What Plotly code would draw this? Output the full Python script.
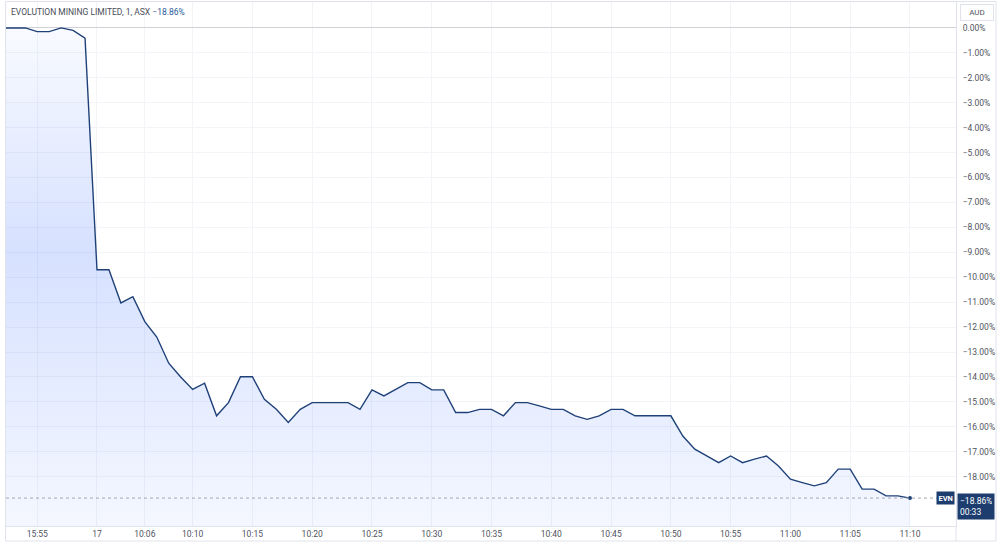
import plotly.graph_objects as go

# ---- data ----
prev_times = ["15:52", "15:53", "15:54", "15:55", "15:56", "15:57", "15:58", "15:59"]
prev_values = [0.0, 0.0, 0.0, -0.15, -0.15, 0.0, -0.1, -0.41]

day_times = [f"{10 + (m // 60)}:{m % 60:02d}" for m in range(2, 71)]  # 10:02 .. 11:10
day_values = [
    -9.70, -9.70, -11.03, -10.78, -11.78, -12.40, -13.45, -14.00, -14.50, -14.25,
    -15.56, -15.03, -13.99, -13.99, -14.90, -15.30, -15.83, -15.30, -15.03, -15.03,
    -15.03, -15.03, -15.30, -14.52, -14.76, -14.50, -14.23, -14.23, -14.52, -14.52,
    -15.43, -15.43, -15.30, -15.30, -15.56, -15.03, -15.03, -15.16, -15.30, -15.30,
    -15.56, -15.70, -15.56, -15.30, -15.30, -15.56, -15.56, -15.56, -15.56, -16.37,
    -16.90, -17.17, -17.44, -17.17, -17.44, -17.30, -17.17, -17.57, -18.10, -18.24,
    -18.37, -18.24, -17.70, -17.70, -18.50, -18.50, -18.77, -18.77, -18.86,
]

times = prev_times + day_times
values = prev_values + day_values

tick_times = ["15:55", "10:02", "10:06", "10:10", "10:15", "10:20", "10:25", "10:30",
              "10:35", "10:40", "10:45", "10:50", "10:55", "11:00", "11:05", "11:10"]
tick_text = ["15:55", "17", "10:06", "10:10", "10:15", "10:20", "10:25", "10:30",
             "10:35", "10:40", "10:45", "10:50", "10:55", "11:00", "11:05", "11:10"]

y_ticks = [0, -1, -2, -3, -4, -5, -6, -7, -8, -9, -10, -11, -12, -13, -14, -15, -16, -17, -18]
y_tick_text = [("0.00%" if v == 0 else "\u2212%.2f%%" % abs(v)) for v in y_ticks]

symbol = "EVN"
title_name = "EVOLUTION MINING LIMITED, 1, ASX"
last_change = values[-1]
countdown = "00:33"

# ---- styles ----
LINE = "#1f4178"
NAVY = "#1c3d6e"
GRID = "#f2f4f8"
TXT = "#50535e"
FONT = "Roboto"

y_range = [-19.98, 1.04]
x_range = [0.389, 79.85]

fig = go.Figure()

# baseline helper for area fill down to the bottom of the pane
fig.add_trace(go.Scatter(
    x=times, y=[y_range[0]] * len(times), mode="lines",
    line=dict(width=0, color="rgba(0,0,0,0)"), hoverinfo="skip", showlegend=False,
))

fig.add_trace(go.Scatter(
    x=times, y=values, mode="lines",
    line=dict(color=LINE, width=1.4),
    fill="tonexty",
    fillgradient=dict(
        type="vertical",
        start=y_range[0], stop=0,
        colorscale=[[0, "rgba(41,98,255,0.05)"], [0.35, "rgba(41,98,255,0.14)"],
                    [0.55, "rgba(41,98,255,0.19)"], [1, "rgba(41,98,255,0.03)"]],
    ),
    showlegend=False,
))

# last point marker
fig.add_trace(go.Scatter(
    x=[times[-1]], y=[values[-1]], mode="markers",
    marker=dict(color=LINE, size=4), showlegend=False,
))

fig.update_layout(
    width=1000, height=545,
    margin=dict(l=6, r=44, t=2, b=19),
    plot_bgcolor="white", paper_bgcolor="white",
    font=dict(family=FONT, size=8.5, color=TXT),
    xaxis=dict(
        type="category", range=x_range,
        tickmode="array", tickvals=tick_times, ticktext=tick_text,
        showgrid=True, gridcolor=GRID, gridwidth=1,
        showline=True, linecolor="#e0e3eb", linewidth=1,
        ticks="", tickfont=dict(size=8.5, color=TXT),
        zeroline=False,
    ),
    yaxis=dict(
        side="right", range=y_range,
        tickmode="array", tickvals=y_ticks, ticktext=y_tick_text,
        showgrid=True, gridcolor=GRID, gridwidth=1,
        zeroline=True, zerolinecolor="#cfd1d6", zerolinewidth=1,
        showline=True, linecolor="#e0e3eb", linewidth=1,
        ticks="", ticklabelstandoff=4, tickfont=dict(size=8.5, color=TXT),
    ),
)

def px_x(p):
    return (p - 6) / 950.0

def px_y(p):
    return (526 - p) / 524.0

# frame
fig.add_shape(type="rect", xref="paper", yref="paper",
              x0=px_x(5.5), x1=px_x(996), y0=px_y(541), y1=px_y(1.5),
              line=dict(color="#e0e3eb", width=1), layer="above")
fig.add_shape(type="line", xref="paper", yref="paper",
              x0=px_x(956), x1=px_x(956), y0=px_y(541), y1=px_y(526),
              line=dict(color="#e0e3eb", width=1))

# dotted price line
fig.add_shape(type="line", xref="paper", yref="y",
              x0=0, x1=px_x(938), y0=last_change, y1=last_change,
              line=dict(color="#a3a7b1", width=1, dash="dot"))

# title
fig.add_annotation(
    xref="paper", yref="paper", x=px_x(9), y=px_y(12), xanchor="left", yanchor="middle",
    text=f"{title_name} <span style='color:#2a5a9a'>\u2212{abs(last_change):.2f}%</span>",
    showarrow=False, font=dict(family=FONT, size=8.5, color="#4a4d57"),
)

# AUD box
fig.add_annotation(
    xref="paper", yref="paper", x=px_x(976.5), y=px_y(12.5), xanchor="center", yanchor="middle",
    text="AUD", showarrow=False, font=dict(family=FONT, size=8, color=TXT),
    bgcolor="white", bordercolor="#e0e3eb", borderwidth=1, borderpad=0,
    width=32, height=15,
)

# EVN label
fig.add_annotation(
    xref="paper", yref="y", x=px_x(955), y=last_change, xanchor="right", yanchor="middle",
    text=f"<b>{symbol}</b>", showarrow=False, font=dict(family=FONT, size=7.5, color="white"),
    bgcolor=NAVY, borderpad=1.5,
)

# price + countdown label
fig.add_annotation(
    xref="paper", yref="paper", x=px_x(957), y=px_y(493), xanchor="left", yanchor="top",
    text=f"\u2212{abs(last_change):.2f}%<br>{countdown}", align="left",
    showarrow=False, font=dict(family=FONT, size=8.5, color="white"),
    bgcolor=NAVY, borderpad=2, width=32,
)

fig.write_html("out.html")
